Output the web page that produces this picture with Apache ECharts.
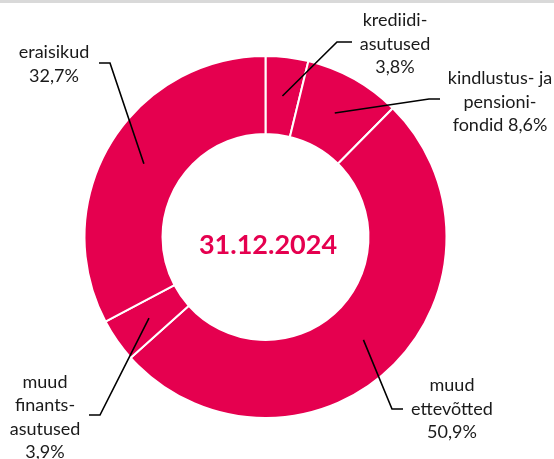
<!DOCTYPE html>
<html>
<head>
<meta charset="utf-8">
<script src="https://cdn.jsdelivr.net/npm/echarts@6/dist/echarts.min.js"></script>
<style>
    html, body { margin: 0; padding: 0; background: #fff; }
    #chart { width: 554px; height: 459px; }
</style>
</head>
<body>
<div id="chart"></div>
<script>
(function () {
    'use strict';

    // data, clockwise from 12 o'clock
    var categories = ['krediidiasutused', 'kindlustus- ja pensionifondid', 'muud ettevõtted', 'muud finantsasutused', 'eraisikud'];
    var shares = [3.8, 8.6, 50.9, 3.9, 32.7];
    var labelTexts = ['krediidi-\nasutused\n', 'kindlustus- ja\npensioni-\nfondid ', 'muud\nettevõtted\n', 'muud\nfinants-\nasutused\n', 'eraisikud\n'];
    var dateText = '31.12.2024';

    // label placement (centre of text block, elbow of leader line, end of leader line)
    var labelPos = [[395, 44], [500, 102], [452, 409], [45, 417], [54, 64]];
    var lineBend = [[337, 42], [429, 99], [392, 409], [100, 415], [110, 63]];
    var lineEnd = [[352, 42], [440, 99], [403, 409], [89, 415], [99, 63]];

    var PINK = '#e5004f';
    var TEXT = '#1a1a1a';
    var FONT = 'Lato, "Noto Sans", sans-serif';
    var CENTER = [265.5, 237];
    var RADIUS = [103, 181];

    var chart = echarts.init(document.getElementById('chart'), null, { renderer: 'canvas' });

    function fmt(v) {
        return String(v.toFixed(1)).replace('.', ',') + '%';
    }

    // leader line starts in the middle of the ring, at the slice's mid angle
    function layoutLabel(params) {
        var i = params.dataIndex;
        var data = chart.getModel().getSeriesByIndex(params.seriesIndex).getData();
        var lay = data.getItemLayout(i);
        var mid = (lay.startAngle + lay.endAngle) / 2;
        var rm = (lay.r + lay.r0) / 2;
        var ax = lay.cx + rm * Math.cos(mid);
        var ay = lay.cy + rm * Math.sin(mid);
        return {
            x: labelPos[i][0],
            y: labelPos[i][1],
            align: 'center',
            verticalAlign: 'middle',
            labelLinePoints: [[ax, ay], lineBend[i], lineEnd[i]]
        };
    }

    var pieData = categories.map(function (name, i) {
        return { name: name, value: shares[i] };
    });

    var option = {
        animation: false,
        backgroundColor: '#fff',
        graphic: [{
            type: 'rect',
            shape: { x: 0, y: 0, width: 554, height: 3 },
            style: { fill: '#d9d9d9' },
            silent: true
        }],
        title: {
            text: dateText,
            left: 263,
            top: 240,
            textAlign: 'center',
            textVerticalAlign: 'middle',
            textStyle: {
                color: PINK,
                fontFamily: FONT,
                fontWeight: 'bold',
                fontSize: 27
            }
        },
        series: [{
            // the ring
            type: 'pie',
            center: CENTER,
            radius: RADIUS,
            startAngle: 90,
            clockwise: true,
            silent: true,
            emphasis: { disabled: true },
            itemStyle: {
                color: PINK,
                borderColor: '#fff',
                borderWidth: 2
            },
            label: { show: false },
            labelLine: { show: false },
            data: pieData
        }, {
            // transparent copy on top, carries labels and leader lines
            type: 'pie',
            z: 5,
            center: CENTER,
            radius: RADIUS,
            startAngle: 90,
            clockwise: true,
            avoidLabelOverlap: false,
            silent: true,
            emphasis: { disabled: true },
            itemStyle: { color: 'rgba(0,0,0,0)' },
            label: {
                show: true,
                position: 'outside',
                color: TEXT,
                fontFamily: FONT,
                fontSize: 18,
                lineHeight: 23.5,
                align: 'center',
                formatter: function (p) {
                    return labelTexts[p.dataIndex] + fmt(shares[p.dataIndex]);
                }
            },
            labelLine: {
                show: true,
                showAbove: true,
                lineStyle: { color: '#000', width: 1.6 }
            },
            labelLayout: layoutLabel,
            data: pieData
        }]
    };

    chart.setOption(option);
})();
</script>
</body>
</html>
